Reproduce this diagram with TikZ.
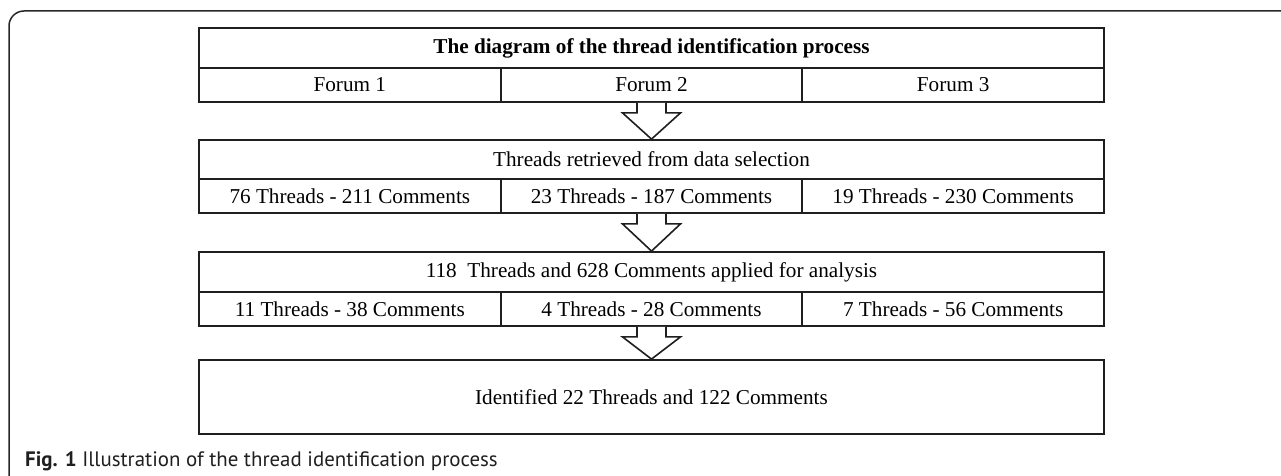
\documentclass[tikz,border=0pt]{standalone}
\usepackage{fontspec}
\setmainfont{Liberation Serif}
\newfontfamily\capfont{PT Sans}
\usetikzlibrary{calc}
\begin{document}
\begin{tikzpicture}[x=1bp,y=-1bp,
  cell/.style={draw=black!88, line width=1.8bp, rectangle, inner sep=0pt,
    font=\fontsize{21.2bp}{25bp}\selectfont, text=black},
  titlecell/.style={cell, minimum width=905bp, minimum height=40bp},
  forumcell/.style={cell, minimum width=301.67bp, minimum height=34bp},
  hollowarrow/.style={draw=black!88, line width=1.6bp, fill=white, line join=miter},
  frame/.style={draw=black!85, line width=1.5bp, rounded corners=15bp},
  captext/.style={font=\capfont\fontsize{20.9bp}{24bp}\selectfont, text=black!88, inner sep=0pt}
]
\useasboundingbox (0,0) rectangle (1281,476);
\clip (0,0) rectangle (1281,476);
\draw[frame] (9,490) -- (9,11) -- (1300,11);

% Block 1
\node[titlecell, minimum height=40bp] (b1t) at (651.5,48) {\bfseries The diagram of the thread identification process};
\node[forumcell] (b1a) at (349.83,85) {Forum 1};
\node[forumcell] (b1b) at (651.5,85) {Forum 2};
\node[forumcell] (b1c) at (953.17,85) {Forum 3};

% Block 2
\node[titlecell, minimum height=39bp] (b2t) at (651.5,159.5) {Threads retrieved from data selection};
\node[forumcell] (b2a) at (349.83,196) {76 Threads - 211 Comments};
\node[forumcell] (b2b) at (651.5,196) {23 Threads - 187 Comments};
\node[forumcell] (b2c) at (953.17,196) {19 Threads - 230 Comments};

% Block 3
\node[titlecell, minimum height=40bp] (b3t) at (651.5,272) {118\ \ Threads and 628 Comments applied for analysis};
\node[forumcell] (b3a) at (349.83,309) {11 Threads - 38 Comments};
\node[forumcell] (b3b) at (651.5,309) {4 Threads - 28 Comments};
\node[forumcell] (b3c) at (953.17,309) {7 Threads - 56 Comments};

% Block 4
\node[titlecell, minimum height=74bp] (b4) at (651.5,397) {Identified 22 Threads and 122 Comments};

% Hollow arrows
\foreach \s/\t in {b1b/b2t, b2b/b3t, b3b/b4}{
  \draw[hollowarrow] ($(\s.south)+(-14.5,0)$) -- ($(\s.south)+(-14.5,10)$)
    -- ($(\s.south)+(-29,10)$) -- (\t.north) -- ($(\s.south)+(29,10)$)
    -- ($(\s.south)+(14.5,10)$) -- ($(\s.south)+(14.5,0)$);
}

% Caption
\node[captext, anchor=base west] (cap) at (25,467) {\bfseries Fig. 1\mdseries\ Illustration of the thread identification process};
\end{tikzpicture}
\end{document}
